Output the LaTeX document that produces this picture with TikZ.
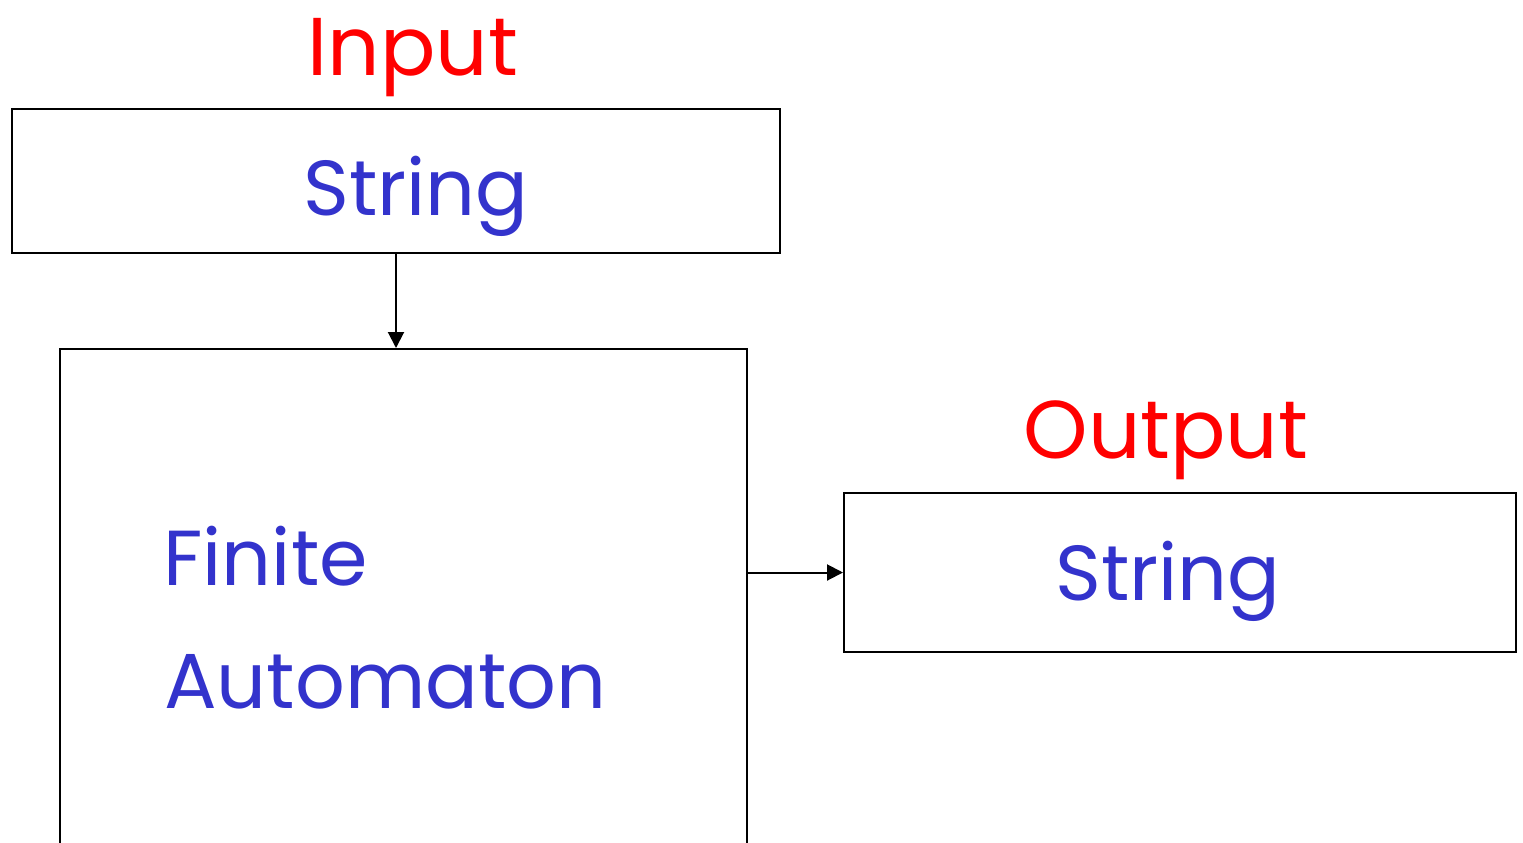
\documentclass[tikz,border=0pt]{standalone}
\usepackage{fontspec}
\setmainfont{Poppins}
\usetikzlibrary{arrows.meta}
\definecolor{fablue}{RGB}{51,51,204}
\definecolor{fared}{RGB}{255,0,0}
\begin{document}
\begin{tikzpicture}[x=0.5pt,y=-0.5pt,
  boxst/.style={draw,line width=1pt,rectangle,inner sep=0pt},
  blutxt/.style={text=fablue,font=\fontsize{39}{44}\selectfont,inner sep=0pt,anchor=base},
  redtxt/.style={text=fared,font=\fontsize{41}{46}\selectfont,inner sep=0pt,anchor=base},
  conn/.style={line width=1pt,-{Triangle[length=8pt,width=8pt]}}]
\useasboundingbox (0,0) rectangle (1523,842);
\clip (0,0) rectangle (1523,842);
% boxes
\node[boxst,minimum width=384pt,minimum height=72pt] (inbox) at (396,181) {};
\node[boxst,minimum width=343.5pt,minimum height=300pt] (fabox) at (403.5,649) {};
\node[boxst,minimum width=336pt,minimum height=79.5pt] (outbox) at (1180,572.5) {};
% texts
\node[redtxt] (intxt) at (413,75) {Input};
\node[blutxt] (instr) at (416,215) {String};
\node[blutxt,anchor=base west] (fin) at (163,585) {Finite};
\node[blutxt,anchor=base west] (auto) at (164,708) {Automaton};
\node[redtxt] (outtxt) at (1166,458) {Output};
\node[blutxt] (outstr) at (1168,600) {String};
% connectors
\draw[conn] (inbox.south) -- (inbox.south |- fabox.north);
\draw[conn] (fabox.east |- outbox.west) -- (outbox.west);
\end{tikzpicture}
\end{document}
